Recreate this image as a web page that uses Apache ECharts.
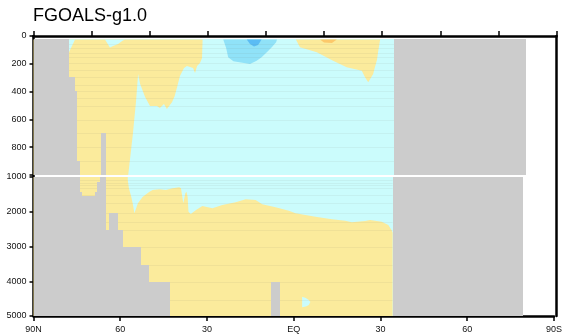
<!DOCTYPE html>
<html>
<head>
<meta charset="utf-8">
<title>FGOALS-g1.0</title>
<script src="https://cdn.jsdelivr.net/npm/echarts@6/dist/echarts.min.js"></script>
<style>
  html, body { margin: 0; padding: 0; background: #fff; }
  #chart { width: 565px; height: 336px; }
</style>
</head>
<body>
<div id="chart"></div>
<script>
// Zonal-mean section, latitude (N positive) vs depth (m).
// Upper panel: 0-1000 m, lower panel: 1000-5000 m.

const titleText = 'FGOALS-g1.0';
const latTickLabels = ['90N', '60', '30', 'EQ', '30', '60', '90S'];

const topLevel = 25;          // shallowest model level drawn (m)
const southCoast = -34.2;     // southern end of the open ocean
const southEdge = -79.4;      // southern end of the data

// Positive anomaly region, north, 0-1000 m  [lat, depth]
const yellowNorthUpper = [
  [90, 25], [31.8, 25], [32.0, 158], [32.7, 194], [33.7, 216], [34.4, 266],
  [35.1, 230], [36.1, 223], [37.2, 216], [38.2, 230], [38.9, 259], [39.6, 288],
  [40.3, 345], [41.4, 432], [42.3, 475], [44.1, 525], [45.1, 489], [46.5, 518],
  [47.5, 504], [49.9, 504], [51.6, 439], [53.3, 345], [54.0, 273], [54.7, 468],
  [55.8, 705], [57.4, 1000], [90, 1000]
];
// Small negative pockets near the surface in the north
const cyanNorthA = [[77.8, 25], [75.7, 25], [77.8, 117]];
const cyanNorthB = [[65.4, 25], [63.7, 83], [62.6, 72], [60.9, 58], [59.5, 36], [58.5, 25]];

// Positive anomaly region, southern subtropics, upper ocean
const yellowSouthUpper = [
  [-0.3, 25], [-1.7, 81], [-7.5, 117], [-13.1, 178], [-17.8, 225], [-23.0, 250],
  [-24.1, 297], [-25.2, 333], [-26.9, 273], [-27.5, 225], [-28.2, 173],
  [-28.6, 115], [-29.3, 25]
];
const orangeSouthUpper = [[-8.6, 25], [-10.0, 47], [-12.7, 50], [-14.4, 25]];

// Negative cores north of the equator
const lightBlueUpper = [
  [24.7, 25], [23.7, 86], [23.0, 153], [21.2, 182], [15.5, 201], [13.2, 178],
  [11.5, 153], [9.7, 117], [8.0, 81], [6.5, 45], [6.2, 25]
];
const blueUpper = [[16.6, 25], [15.5, 58], [14.1, 76], [12.7, 65], [11.5, 25]];

// Positive anomaly region, deep ocean
const yellowLower = [
  [90, 1000], [57.4, 1000], [57.4, 1086], [57.0, 1325], [56.2, 1567], [55.7, 1757],
  [55.1, 2045], [53.9, 1757], [52.2, 1567], [49.9, 1423], [48.8, 1374], [46.5, 1354],
  [44.2, 1374], [41.9, 1325], [39.6, 1296], [39.0, 1325], [38.2, 1757], [37.5, 1469],
  [37.1, 1423], [36.7, 1567], [36.4, 1999], [35.6, 2065], [33.8, 1950], [31.6, 1835],
  [28.1, 1901], [24.7, 1806], [20.1, 1728], [16.6, 1642], [13.2, 1662], [10.9, 1786],
  [6.3, 1872], [1.7, 1970], [-0.6, 2045], [-7.5, 2142], [-13.2, 2217], [-17.8, 2258],
  [-20.1, 2304], [-24.7, 2266], [-26.4, 2237], [-30.4, 2286], [-32.7, 2381],
  [-33.8, 2525], [-34.2, 2600], [-34.2, 5000], [90, 5000]
];
const cyanLower = [
  [-2.9, 4445], [-4.2, 4480], [-5.2, 4540], [-5.75, 4600], [-5.2, 4680],
  [-4.2, 4730], [-2.9, 4750]
];

// Model level interfaces (m)
const levelDepths = [
  58, 89, 120, 149, 196, 245, 297, 350, 396, 448, 504, 604, 700, 796, 899,
  1086, 1164, 1230, 1325, 1518, 1757, 2027, 2286, 2525, 3006, 3532, 4030, 4540
];

// Land / masked cells: [northern lat, southern lat, top depth, bottom depth]
const landUpper = [
  [90, 77.8, 25, 297],
  [90, 75.8, 297, 394],
  [90, 74.9, 394, 897],
  [90, 74.0, 897, 1000],
  [66.9, 65.0, 695, 1000],
  [southCoast, southEdge, 25, 1000]
];
const landLower = [
  [90, 74.0, 1000, 1423],
  [90, 73.1, 1423, 1547],
  [66.9, 65.0, 1000, 1135],
  [67.9, 65.0, 1135, 1423],
  [68.8, 65.0, 1423, 1547],
  [90, 65.0, 1547, 2525],
  [63.9, 60.8, 2027, 2525],
  [90, 58.9, 2525, 3006],
  [90, 52.8, 3006, 3532],
  [90, 49.9, 3532, 4030],
  [90, 42.7, 4030, 5000],
  [7.7, 4.9, 4020, 5000],
  [southCoast, southEdge, 1000, 5000]
];
const oceanUpper = [[90, southCoast, topLevel, 1000]];
const oceanLower = [[90, southCoast, 1000, 5000]];

const colors = {
  yellow: '#fbeb9c',
  cyan: '#cbfcfc',
  lightBlue: '#90e2f8',
  blue: '#5bbcf4',
  orange: '#fcc86a',
  land: '#cccccc'
};

// x axis runs in degrees south of the North Pole
const fromNorth = lat => 90 - lat;

function cellSeries(cells, color, panel) {
  return {
    type: 'custom', xAxisIndex: panel, yAxisIndex: panel, silent: true, clip: true,
    data: cells.map(c => [fromNorth(c[0]), fromNorth(c[1]), c[2], c[3]]),
    encode: { x: [0, 1], y: [2, 3] },
    renderItem: (params, api) => {
      const p0 = api.coord([api.value(0), api.value(2)]);
      const p1 = api.coord([api.value(1), api.value(3)]);
      // snap to whole pixels so neighbouring cells meet without seams
      const x0 = Math.round(p0[0]), y0 = Math.round(p0[1]);
      const x1 = Math.round(p1[0]), y1 = Math.round(p1[1]);
      return {
        type: 'rect',
        shape: { x: x0, y: y0, width: x1 - x0, height: y1 - y0 },
        style: { fill: color }
      };
    }
  };
}

function polygonSeries(points, color, panel) {
  const pts = points.map(p => [fromNorth(p[0]), p[1]]);
  return {
    type: 'custom', xAxisIndex: panel, yAxisIndex: panel, silent: true, clip: true,
    data: [pts[0]],
    renderItem: (params, api) => ({
      type: 'polygon',
      shape: { points: pts.map(p => api.coord(p)) },
      style: { fill: color }
    })
  };
}

function levelSeries(depths, panel, dMin, dMax) {
  const ds = depths.filter(d => d > dMin && d < dMax);
  return {
    type: 'custom', xAxisIndex: panel, yAxisIndex: panel, silent: true, clip: true,
    data: ds.map(d => [fromNorth(90), fromNorth(southCoast), d]),
    renderItem: (params, api) => {
      const a = api.coord([api.value(0), api.value(2)]);
      const b = api.coord([api.value(1), api.value(2)]);
      const y = Math.round(a[1]) + 0.5;
      return {
        type: 'line',
        shape: { x1: a[0], y1: y, x2: b[0], y2: y },
        style: { stroke: 'rgba(120,110,100,0.08)', lineWidth: 1 }
      };
    }
  };
}

const font = 'Liberation Sans, Arial, Helvetica, sans-serif';
const axisColor = '#000';

const option = {
  animation: false,
  backgroundColor: '#fff',
  title: {
    text: titleText, left: 33, top: 7, padding: 0,
    textStyle: { fontSize: 18, fontWeight: 'normal', color: '#000', fontFamily: font }
  },
  grid: [
    { left: 33.5, top: 36, width: 523, height: 139 },
    { left: 33.5, top: 177, width: 523, height: 139 },
    { left: 33.5, top: 36, width: 523, height: 280 }
  ],
  xAxis: [
    {
      gridIndex: 0, type: 'value', position: 'top', min: 0, max: 180, interval: 20,
      axisLine: { show: true, lineStyle: { color: axisColor, width: 2.5 } },
      axisTick: { show: true, inside: false, length: 5, lineStyle: { color: axisColor, width: 1.5 } },
      axisLabel: { show: false }, splitLine: { show: false }
    },
    {
      gridIndex: 1, type: 'value', position: 'bottom', min: 0, max: 180, interval: 30,
      axisLine: { show: true, lineStyle: { color: axisColor, width: 2.5 } },
      axisTick: { show: true, inside: false, length: 5, lineStyle: { color: axisColor, width: 1.5 } },
      axisLabel: {
        show: true, margin: 9, fontSize: 9, color: '#111', fontFamily: font,
        formatter: v => latTickLabels[Math.round(v / 30)]
      },
      splitLine: { show: false }
    },
    { gridIndex: 2, type: 'value', min: 0, max: 180, show: false }
  ],
  yAxis: [
    {
      gridIndex: 0, type: 'value', inverse: true, min: 0, max: 1000, interval: 200,
      axisLine: { show: false },
      axisTick: { show: true, inside: false, length: 4, lineStyle: { color: axisColor, width: 1.5 } },
      axisLabel: {
        show: true, margin: 7, fontSize: 9, color: '#111', fontFamily: font,
        formatter: v => (v === 1000 ? '' : String(v))
      },
      splitLine: { show: false }
    },
    {
      gridIndex: 1, type: 'value', inverse: true, min: 1000, max: 5000, interval: 1000,
      axisLine: { show: false },
      axisTick: { show: true, inside: false, length: 4, lineStyle: { color: axisColor, width: 1.5 } },
      axisLabel: {
        show: true, margin: 7, fontSize: 9, color: '#111', fontFamily: font,
        formatter: v => String(v)
      },
      splitLine: { show: false }
    },
    {
      gridIndex: 2, type: 'value', position: 'left', min: 0, max: 1,
      axisLine: { show: true, lineStyle: { color: axisColor, width: 2.5 } },
      axisTick: { show: false }, axisLabel: { show: false }, splitLine: { show: false }
    },
    {
      gridIndex: 2, type: 'value', position: 'right', min: 0, max: 1,
      axisLine: { show: true, lineStyle: { color: axisColor, width: 2.5 } },
      axisTick: { show: false }, axisLabel: { show: false }, splitLine: { show: false }
    }
  ],
  series: [
    // upper panel
    cellSeries(oceanUpper, colors.cyan, 0),
    polygonSeries(yellowNorthUpper, colors.yellow, 0),
    polygonSeries(cyanNorthA, colors.cyan, 0),
    polygonSeries(cyanNorthB, colors.cyan, 0),
    polygonSeries(yellowSouthUpper, colors.yellow, 0),
    polygonSeries(orangeSouthUpper, colors.orange, 0),
    polygonSeries(lightBlueUpper, colors.lightBlue, 0),
    polygonSeries(blueUpper, colors.blue, 0),
    levelSeries(levelDepths, 0, topLevel, 1000),
    cellSeries(landUpper, colors.land, 0),
    // lower panel
    cellSeries(oceanLower, colors.cyan, 1),
    polygonSeries(yellowLower, colors.yellow, 1),
    polygonSeries(cyanLower, colors.cyan, 1),
    levelSeries(levelDepths, 1, 1000, 5000),
    cellSeries(landLower, colors.land, 1)
  ]
};

const chart = echarts.init(document.getElementById('chart'), null, { renderer: 'canvas' });
chart.setOption(option);
</script>
</body>
</html>
